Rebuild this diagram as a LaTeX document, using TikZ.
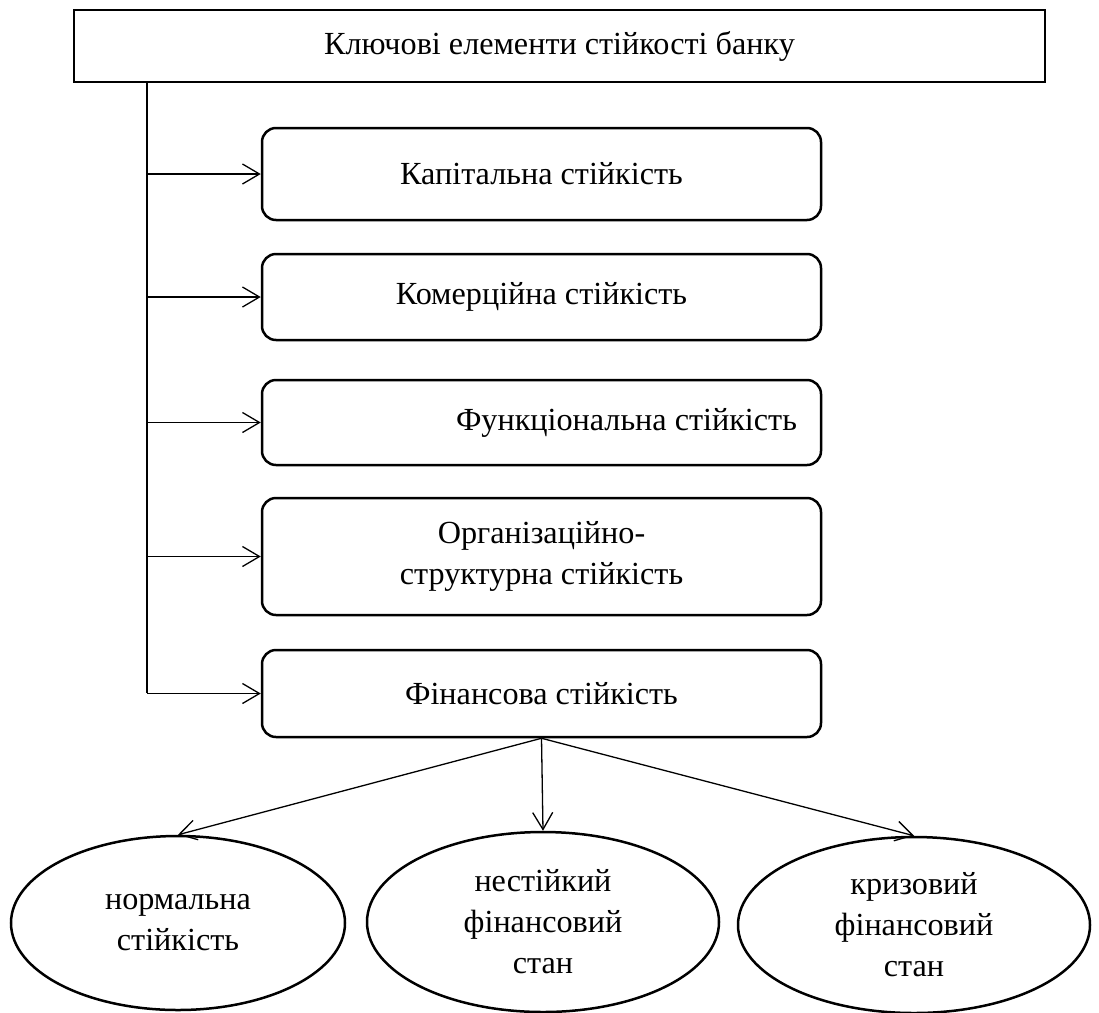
\documentclass[tikz,border=0pt]{standalone}
\usepackage{fontspec}
\setmainfont{Liberation Serif}
\usetikzlibrary{arrows.meta,shapes.geometric}
\begin{document}
\begin{tikzpicture}[x=1pt,y=-1pt,
 font=\fontsize{32.2}{41}\selectfont,
 topbox/.style={draw,line width=2.5pt,minimum width=971pt,minimum height=72pt,inner sep=0pt},
 rbox/.style={draw,line width=2.5pt,rounded corners=14pt,minimum width=559pt,inner sep=0pt,align=center},
 oval/.style={draw,ellipse,line width=2.5pt,inner sep=0pt,align=center},
 conn/.style={line width=1.3pt,-{Straight Barb[length=17pt,width=20pt]}},
 trunkline/.style={line width=1.3pt}
]
\useasboundingbox (0,0) rectangle (1099,1012);

\node[topbox] (top) at (559.5,46) {Ключові елементи стійкості банку};

\node[rbox,minimum height=92pt]  (b1) at (541.5,174)   {Капітальна стійкість};
\node[rbox,minimum height=86pt]  (b2) at (541.5,297)   {Комерційна стійкість};
\node[rbox,minimum height=85pt]  (b3) at (541.5,422.5) {\hspace*{170pt}Функціональна стійкість};
\node[rbox,minimum height=117pt] (b4) at (541.5,556.5) {Організаційно-\\структурна стійкість};
\node[rbox,minimum height=87pt]  (b5) at (541.5,693.5) {Фінансова стійкість};

\node[oval,minimum width=334pt,minimum height=174pt] (e1) at (178,923) {нормальна\\стійкість};
\node[oval,minimum width=352pt,minimum height=180pt] (e2) at (543,922) {нестійкий\\фінансовий\\стан};
\node[oval,minimum width=352pt,minimum height=176pt] (e3) at (914,925) {кризовий\\фінансовий\\стан};

\coordinate (t1) at (147,82);
\coordinate (t2) at (147,693);
\draw[trunkline] (t1) -- (t2);

\foreach \b in {b1,b2,b3,b4,b5}
  \draw[conn] (t2 |- \b.west) -- (\b.west);

\draw[conn] (b5.south) -- (e1.north);
\draw[conn] (b5.south) -- (e2.north);
\draw[conn] (b5.south) -- (e3.north);
\end{tikzpicture}
\end{document}
